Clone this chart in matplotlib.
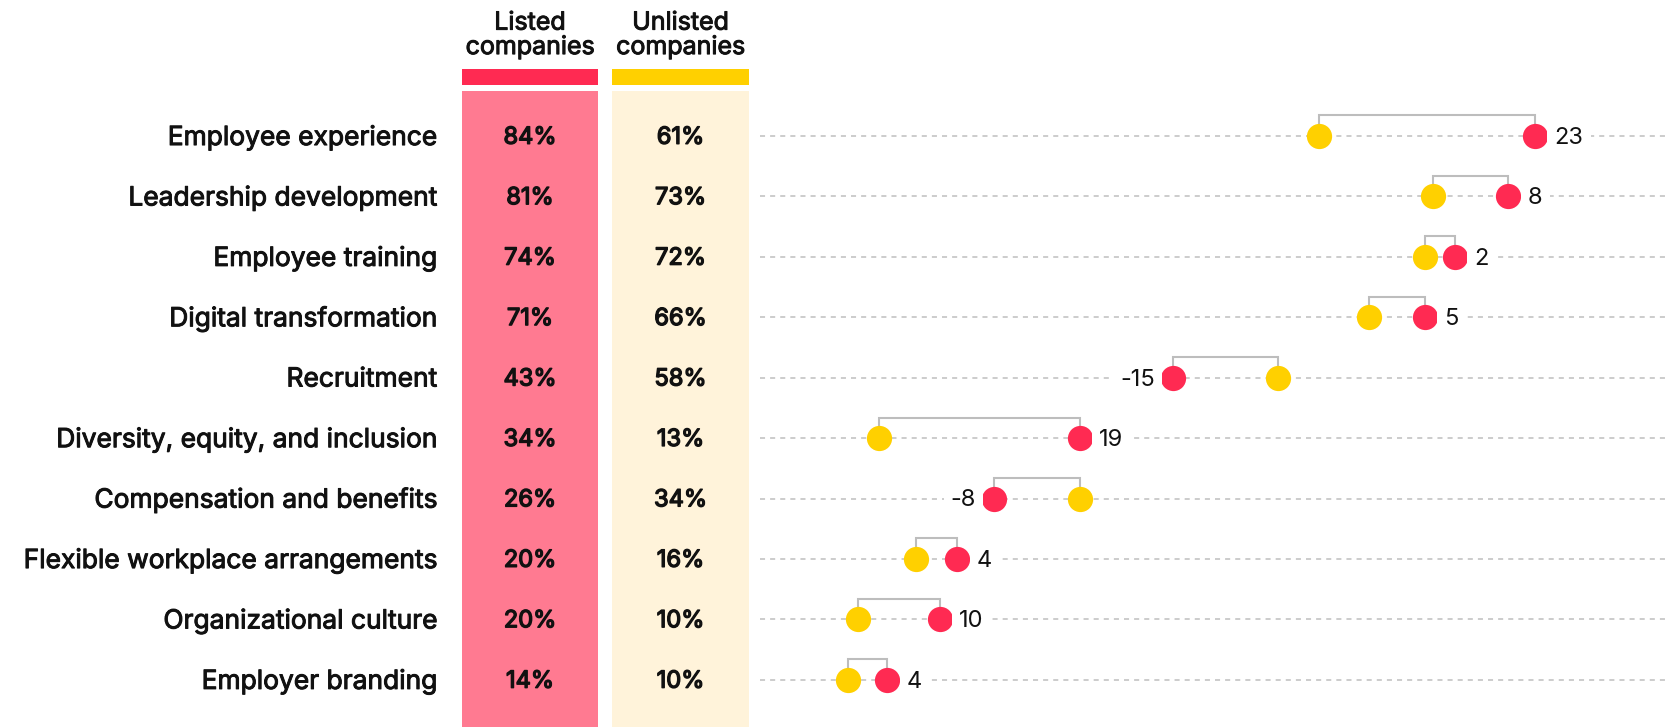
import numpy as np
import matplotlib.pyplot as plt
import matplotlib.patheffects as pe
from matplotlib.patches import Rectangle

plt.rcParams['font.family'] = ['Inter', 'DejaVu Sans']

categories = ['Employee experience', 'Leadership development', 'Employee training',
              'Digital transformation', 'Recruitment', 'Diversity, equity, and inclusion',
              'Compensation and benefits', 'Flexible workplace arrangements',
              'Organizational culture', 'Employer branding']
# table values (%)
listed = [84, 81, 74, 71, 43, 34, 26, 20, 20, 14]
unlisted = [61, 73, 72, 66, 58, 13, 34, 16, 10, 10]
# dot positions as drawn in the chart (%)
listed_dot = [84.1, 81.2, 75.4, 72.1, 44.8, 34.7, 25.4, 21.4, 19.5, 13.8]
unlisted_dot = [60.6, 73.0, 72.1, 66.1, 56.2, 12.9, 34.7, 16.9, 10.6, 9.6]
# gap labels as printed
gap_labels = [23, 8, 2, 5, -15, 19, -8, 4, 10, 4]

RED = '#ff2a52'
PINK = '#ff7a91'
YELLOW = '#ffd000'
CREAM = '#fff3da'
GRID = '#cccccc'
BRACKET = '#bdbdbd'
INK = '#111111'

# Inter medium isn't available as its own face, so thicken regular a little
medium = [pe.withStroke(linewidth=0.7, foreground=INK)]

W, H = 1666, 727
fig = plt.figure(figsize=(W / 100, H / 100), dpi=100)

ylim = (9.78, -2.25)
split = 760 / W
dy = 0.03  # nudge text so caps sit on the row centre

# ---- left table ----
ax_t = fig.add_axes([0, 0, split, 1])
ax_t.set_xlim(0, 760)
ax_t.set_ylim(*ylim)
ax_t.axis('off')

cols = [(462, 598, PINK, RED, 'Listed\ncompanies', listed),
        (612, 749, CREAM, YELLOW, 'Unlisted\ncompanies', unlisted)]
for x0, x1, bg, bar, head, vals in cols:
    ax_t.add_patch(Rectangle((x0, -0.745), x1 - x0, 12, color=bg, lw=0))
    ax_t.add_patch(Rectangle((x0, -1.11), x1 - x0, 0.27, color=bar, lw=0))
    ax_t.text((x0 + x1) / 2, -1.665, head, ha='center', va='center', fontsize=18,
              linespacing=1.05, color=INK, path_effects=medium)
    for i, v in enumerate(vals):
        ax_t.text((x0 + x1) / 2, i + dy, f'{v}%', ha='center', va='center', fontsize=17,
                  color=INK, path_effects=[pe.withStroke(linewidth=1.0, foreground=INK)])

for i, c in enumerate(categories):
    ax_t.text(437, i + dy, c, ha='right', va='center', fontsize=19,
              color=INK, path_effects=medium)

# ---- dumbbell part ----
ax = fig.add_axes([split, 0, 1 - split, 1])
ax.set_xlim(0, 98.3)
ax.set_ylim(*ylim)
ax.axis('off')

rows = np.arange(len(categories))
ax.hlines(rows, 0, 100, colors=GRID, lw=1.4, linestyles=(0, (2.6, 2.6)), zorder=1)

for i in rows:
    top = i - 0.34
    ax.plot([unlisted_dot[i], unlisted_dot[i], listed_dot[i], listed_dot[i]], [i, top, top, i],
            color=BRACKET, lw=1.5, zorder=2, solid_joinstyle='miter')

ax.scatter(unlisted_dot, rows, s=330, color=YELLOW, zorder=3, linewidths=0)
ax.scatter(listed_dot, rows, s=330, color=RED, zorder=3, linewidths=0)

for i in rows:
    d = gap_labels[i]
    off = 14 if d > 0 else -13
    ax.annotate(f'{d}', (listed_dot[i], i + dy), xytext=(off, 0), textcoords='offset points',
                ha='left' if d > 0 else 'right', va='center', fontsize=17,
                color=INK, zorder=4,
                bbox=dict(boxstyle='square,pad=0.3', fc='white', ec='none'))

fig.savefig('out.png', dpi=100)
